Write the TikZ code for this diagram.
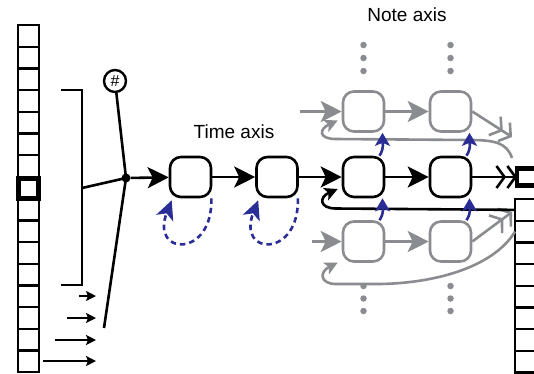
\documentclass[tikz,border=0pt]{standalone}
\usepackage{fontspec}
\setmainfont{Liberation Sans}
\usetikzlibrary{arrows.meta,calc}
\definecolor{ngrey}{RGB}{138,140,144}
\definecolor{nblue}{RGB}{42,45,150}
\begin{document}
\begin{tikzpicture}[x=1pt,y=-1pt,
  state/.style={draw,line width=2.6pt,rounded corners=11pt,minimum width=41pt,minimum height=40pt,inner sep=0pt},
  gstate/.style={state,draw=ngrey},
  cell/.style={draw,line width=2.4pt,minimum width=21pt,minimum height=21.7pt,inner sep=0pt,outer sep=0pt},
  boldcell/.style={draw,line width=4.6pt,minimum width=20.5pt,minimum height=20.5pt,inner sep=0pt,outer sep=0pt},
  bigtip/.style={-{Stealth[length=21pt,width=21pt,inset=5pt]}},
  arr/.style={line width=2.6pt,bigtip},
  garr/.style={arr,draw=ngrey,color=ngrey},
  dbl/.style={line width=2.6pt,-{Straight Barb[length=8pt,width=22pt]Straight Barb[length=8pt,width=22pt]}},
  gdbl/.style={dbl,draw=ngrey,color=ngrey},
  ret/.style={line width=2.6pt,-{Stealth[length=13pt,width=13pt,inset=3pt]}},
  gret/.style={ret,draw=ngrey,color=ngrey},
  barr/.style={line width=2.6pt,draw=nblue,color=nblue,-{Stealth[length=13pt,width=15pt,inset=3pt]}},
  bloop/.style={line width=2.6pt,draw=nblue,color=nblue,dash pattern=on 5.5pt off 4pt,-{Stealth[length=19pt,width=18pt,inset=5pt]}},
  vdot/.style={circle,fill=ngrey,inner sep=0pt,minimum size=6.5pt},
  axislabel/.style={font=\fontsize{19}{21}\selectfont}
]
\clip (0,0) rectangle (534,373);

% input column on the left
\foreach \i in {0,...,15}
  \node[cell] (L\i) at (28.5,{25+10.85+21.7*\i}) {};
\node[boldcell] (Lsel) at (28.5,188.5) {};

% output column on the right
\node[boldcell,minimum width=22pt,minimum height=17.5pt] (outb) at (528,177) {};
\foreach \i in {0,...,7}
  \node[cell] (R\i) at (525.5,{199+10.85+21.7*\i}) {};

% bracket over the context window
\draw[line width=2.6pt] (61,90) -- (82,90) -- (82,285) -- (61,285);
\coordinate (brk) at (82,188);

% merging point and counter input
\node[circle,fill,inner sep=0pt,minimum size=9pt] (hub) at (126,178) {};
\node[circle,draw,line width=2.4pt,minimum size=22pt,inner sep=0pt,font=\fontsize{16}{16}\selectfont] (hash) at (115,81) {\#};
\coordinate (tail) at (104,328);
\draw[line width=2.6pt] (brk) -- (hub.center);
\draw[line width=2.6pt] (hash) -- (hub.center) -- (tail);

% small input arrows
\foreach \y/\x [count=\k] in {296/79,318/67,340/55,361/43} {
  \coordinate (sa\k) at (\x,\y);
  \coordinate (sb\k) at (96,\y);
  \draw[line width=2.6pt,-{Stealth[length=10pt,width=10pt,inset=2pt]}] (sa\k) -- (sb\k);
}

% time axis row
\node[state] (m1) at (190.5,177) {};
\node[state] (m2) at (277,177) {};
\node[state] (m3) at (363.5,177) {};
\node[state] (m4) at (450.5,177) {};
% note axis rows
\node[gstate] (g1) at (363.5,111.5) {};
\node[gstate] (g2) at (450.5,111.5) {};
\node[gstate] (b1) at (363.5,241.5) {};
\node[gstate] (b2) at (450.5,241.5) {};

\node[axislabel] (tlab) at (234,132) {Time axis};
\node[axislabel] (nlab) at (407,15) {Note axis};

% vertical ellipses
\foreach \x in {363.5,450.5} {
  \foreach \y in {45,58,71,286,298.5,311}
    \node[vdot] at (\x,\y) {};
}

% forward connections
\draw[arr] (hub) -- (m1);
\draw[arr] (m1) -- (m2);
\draw[arr] (m2) -- (m3);
\draw[arr] (m3) -- (m4);
\draw[dbl] (m4) -- (outb);

\coordinate (ing) at (300,111.5);
\coordinate (inb) at (312,241.5);
\draw[garr] (ing) -- (g1);
\draw[garr] (g1) -- (g2);
\draw[garr] (inb) -- (b1);
\draw[garr] (b1) -- (b2);
\coordinate (gout) at (512,137);
\coordinate (bout) at (512,212);
\draw[gdbl] (g2.east) -- (gout);
\draw[gdbl] (b2.east) -- (bout);

% recurrent feedback paths
\coordinate (gback) at (512,158);
\draw[gret] (gback) .. controls (507,143) and (495,140) .. (470,140)
  -- (336,139) .. controls (318,139) and (319,129) .. ([shift={(-4,9)}]g1.west);
\draw[ret] (R0.west) -- (336,208.5) .. controls (319,208.5) and (319,197) .. ([shift={(-4,12)}]m3.west);
\draw[gret] (R1.west) .. controls (495,265) and (440,283) .. (380,284)
  -- (336,284) .. controls (320,284) and (319,272) .. ([shift={(-4,21)}]b1.west);

% note-axis links
\draw[barr] ([xshift=16pt]m3.north) .. controls +(5,-8) and +(0,10) .. ([xshift=19pt]g1.south);
\draw[barr] ([xshift=16pt]m4.north) .. controls +(5,-8) and +(0,10) .. ([xshift=19pt]g2.south);
\draw[barr] ([xshift=16pt]b1.north) .. controls +(5,-8) and +(0,10) .. ([xshift=19pt]m3.south);
\draw[barr] ([xshift=16pt]b2.north) .. controls +(5,-8) and +(0,10) .. ([xshift=19pt]m4.south);

% time-axis self loops
\draw[bloop] ([xshift=-1pt]m1.south east) .. controls +(2,60) and +(-22,56) .. ([shift={(3,2)}]m1.south west);
\draw[bloop] ([xshift=-1pt]m2.south east) .. controls +(2,60) and +(-22,56) .. ([shift={(3,2)}]m2.south west);
\end{tikzpicture}
\end{document}
